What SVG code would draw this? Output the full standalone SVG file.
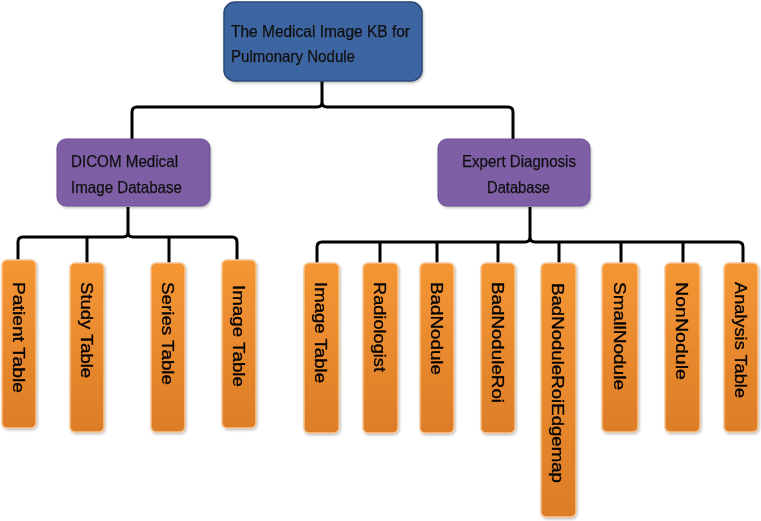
<svg xmlns="http://www.w3.org/2000/svg" width="761" height="521" viewBox="0 0 761 521">
<defs>
<linearGradient id="og" x1="0" y1="0" x2="0" y2="1">
<stop offset="0" stop-color="#f59634"/>
<stop offset="1" stop-color="#dd7d28"/>
</linearGradient>
<filter id="sh" x="-20%" y="-20%" width="140%" height="140%">
<feDropShadow dx="1" dy="1.5" stdDeviation="1.2" flood-color="#000" flood-opacity="0.25"/>
</filter>
</defs>
<style>
.top{fill:#3e65a1;stroke:#2c4a78;stroke-width:1.5}
.mid{fill:#7e5fa6;stroke:#6a4d8f;stroke-width:1}
.leaf{fill:url(#og);stroke:#f6c590;stroke-width:1.5}
.t{font-family:"Liberation Sans",Arial,sans-serif;font-size:16.5px;fill:#111;stroke:#111;stroke-width:0.25}
.v{font-family:"Liberation Sans",Arial,sans-serif;font-size:16.5px;fill:#000;stroke:#000;stroke-width:0.3;dominant-baseline:central}
.c{fill:none;stroke:#000;stroke-width:3;stroke-linejoin:round}
</style>
<rect width="761" height="521" fill="#fff"/>
<g id="connectors">
<path class="c" d="M132,139 V112 Q132,107 137,107 H317 Q322,107 322,102 V81 M322,102 Q322,107 327,107 H508 Q513,107 513,112 V139"/>
<path class="c" d="M18,261 V242 Q18,237 23,237 H123 Q128,237 128,232 V207 M128,232 Q128,237 133,237 H232 Q237,237 237,242 V261 M87,237 V263 M169,237 V263"/>
<path class="c" d="M317,264 V247 Q317,242 322,242 H525 Q530,242 530,237 V207 M530,237 Q530,242 535,242 H738 Q743,242 743,247 V264 M380,242 V264 M437,242 V264 M498,242 V264 M559,242 V264 M621,242 V264 M683,242 V264"/>
</g>
<g id="root" filter="url(#sh)">
<rect class="top" x="224" y="2" width="198" height="79" rx="11"/>
<text class="t" x="231" y="37" textLength="179" lengthAdjust="spacingAndGlyphs">The Medical Image KB for</text>
<text class="t" x="231" y="62" textLength="124" lengthAdjust="spacingAndGlyphs">Pulmonary Nodule</text>
</g>
<g id="dicom" filter="url(#sh)">
<rect class="mid" x="57" y="139" width="153" height="67" rx="9"/>
<text class="t" x="71" y="167" textLength="107" lengthAdjust="spacingAndGlyphs">DICOM Medical</text>
<text class="t" x="71" y="193" textLength="111" lengthAdjust="spacingAndGlyphs">Image Database</text>
</g>
<g id="expert" filter="url(#sh)">
<rect class="mid" x="438" y="139" width="152" height="67" rx="9"/>
<text class="t" x="462" y="167" textLength="114" lengthAdjust="spacingAndGlyphs">Expert Diagnosis</text>
<text class="t" x="487" y="193" textLength="63" lengthAdjust="spacingAndGlyphs">Database</text>
</g>
<g id="patient" filter="url(#sh)">
<rect class="leaf" x="2" y="260" width="34" height="168" rx="5"/>
<text class="v" transform="translate(19,282) rotate(90)" textLength="111" lengthAdjust="spacingAndGlyphs">Patient Table</text>
</g>
<g id="study" filter="url(#sh)">
<rect class="leaf" x="70" y="263" width="34" height="169" rx="5"/>
<text class="v" transform="translate(87,282) rotate(90)" textLength="96" lengthAdjust="spacingAndGlyphs">Study Table</text>
</g>
<g id="series" filter="url(#sh)">
<rect class="leaf" x="151" y="263" width="34" height="169" rx="5"/>
<text class="v" transform="translate(168,282) rotate(90)" textLength="103" lengthAdjust="spacingAndGlyphs">Series Table</text>
</g>
<g id="image1" filter="url(#sh)">
<rect class="leaf" x="222" y="260" width="34" height="168" rx="5"/>
<text class="v" transform="translate(239,285) rotate(90)" textLength="102" lengthAdjust="spacingAndGlyphs">Image Table</text>
</g>
<g id="image2" filter="url(#sh)">
<rect class="leaf" x="304" y="263" width="35" height="170" rx="5"/>
<text class="v" transform="translate(321,282) rotate(90)" textLength="101" lengthAdjust="spacingAndGlyphs">Image Table</text>
</g>
<g id="radiologist" filter="url(#sh)">
<rect class="leaf" x="363" y="263" width="35" height="170" rx="5"/>
<text class="v" transform="translate(380,282) rotate(90)" textLength="90" lengthAdjust="spacingAndGlyphs">Radiologist</text>
</g>
<g id="badnodule" filter="url(#sh)">
<rect class="leaf" x="420" y="263" width="34" height="170" rx="5"/>
<text class="v" transform="translate(437,282) rotate(90)" textLength="93" lengthAdjust="spacingAndGlyphs">BadNodule</text>
</g>
<g id="badnoduleroi" filter="url(#sh)">
<rect class="leaf" x="481" y="263" width="34" height="170" rx="5"/>
<text class="v" transform="translate(498,282) rotate(90)" textLength="121" lengthAdjust="spacingAndGlyphs">BadNoduleRoi</text>
</g>
<g id="edgemap" filter="url(#sh)">
<rect class="leaf" x="541" y="263" width="35" height="254" rx="5"/>
<text class="v" transform="translate(558,283) rotate(90)" textLength="200" lengthAdjust="spacingAndGlyphs">BadNoduleRoiEdgemap</text>
</g>
<g id="smallnodule" filter="url(#sh)">
<rect class="leaf" x="602" y="263" width="36" height="169" rx="5"/>
<text class="v" transform="translate(620,282) rotate(90)" textLength="108" lengthAdjust="spacingAndGlyphs">SmallNodule</text>
</g>
<g id="nonnodule" filter="url(#sh)">
<rect class="leaf" x="665" y="263" width="35" height="169" rx="5"/>
<text class="v" transform="translate(682,282) rotate(90)" textLength="98" lengthAdjust="spacingAndGlyphs">NonNodule</text>
</g>
<g id="analysis" filter="url(#sh)">
<rect class="leaf" x="724" y="263" width="34" height="169" rx="5"/>
<text class="v" transform="translate(741,282) rotate(90)" textLength="116" lengthAdjust="spacingAndGlyphs">Analysis Table</text>
</g>
</svg>
